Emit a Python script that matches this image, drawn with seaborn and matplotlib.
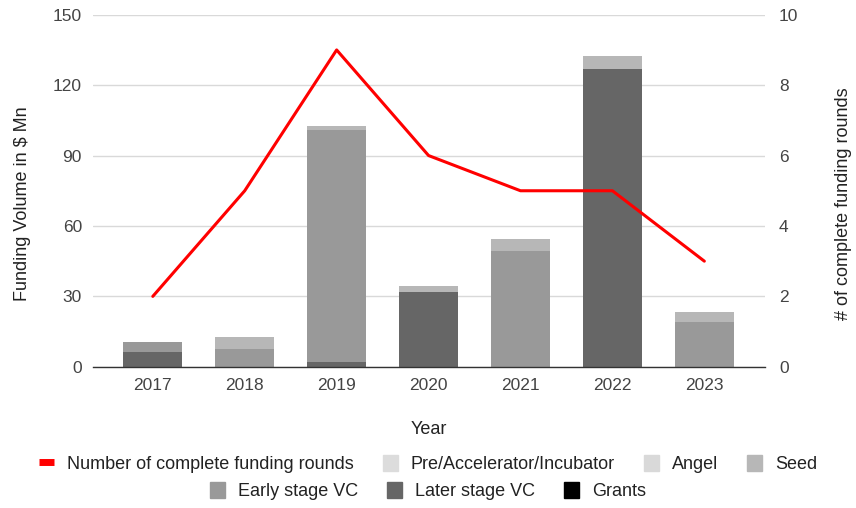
import numpy as np
import pandas as pd
import matplotlib
matplotlib.use("Agg")
import matplotlib.pyplot as plt
from matplotlib.patches import Patch
from matplotlib.lines import Line2D
import seaborn as sns

# Funding volume by stage ($ Mn) and number of complete rounds per year
years = ["2017", "2018", "2019", "2020", "2021", "2022", "2023"]
grants = [0, 0, 0, 0, 0, 0, 0]
later_vc = [6.5, 0, 2, 32, 0, 127, 0]
early_vc = [4, 7.5, 99, 0, 49.5, 0, 19]
seed = [0, 5, 1.5, 2.5, 5, 5.5, 4.5]
angel = [0, 0, 0, 0, 0, 0, 0]
pre_acc = [0, 0, 0, 0, 0, 0, 0]
rounds = [2, 5, 9, 6, 5, 5, 3]

left_ticks = [0, 30, 60, 90, 120, 150]
right_ticks = [0, 2, 4, 6, 8, 10]

sns.set_theme(style="white")
plt.rcParams["font.family"] = ["Liberation Sans", "DejaVu Sans"]

TICK_FS = 12.5
LABEL_FS = 13

# stack order from the bottom up
layers = [
    ("Grants", grants, "#000000"),
    ("Later stage VC", later_vc, "#666666"),
    ("Early stage VC", early_vc, "#999999"),
    ("Seed", seed, "#b7b7b7"),
    ("Angel", angel, "#d9d9d9"),
    ("Pre/Accelerator/Incubator", pre_acc, "#dcdcdc"),
]

fig = plt.figure(figsize=(8.56, 5.08), dpi=100)
ax = fig.add_axes([0.1087, 0.278, 0.785, 0.693])

cum = np.cumsum([np.array(v, dtype=float) for _, v, _ in layers], axis=0)
# draw cumulative totals from the tallest down so each layer shows its own slice
for i in range(len(layers) - 1, -1, -1):
    name, _, color = layers[i]
    d = pd.DataFrame({"Year": years, "value": cum[i]})
    sns.barplot(data=d, x="Year", y="value", color=color, width=0.64,
                saturation=1, ax=ax, zorder=2, edgecolor="none", linewidth=0)

ax.set_ylim(0, 150)
ax.set_yticks(left_ticks)
ax.set_xlim(-0.65, 6.66)
ax.grid(axis="y", color="#d9d9d9", linewidth=1.0, zorder=0)
ax.set_axisbelow(True)
for s in ["top", "right", "left"]:
    ax.spines[s].set_visible(False)
ax.spines["bottom"].set_color("#333333")
ax.spines["bottom"].set_linewidth(1.0)
ax.tick_params(axis="both", length=0, labelsize=TICK_FS, colors="#444444", pad=8)
ax.set_xlabel("Year", fontsize=LABEL_FS, color="#222222", labelpad=20)
ax.set_ylabel("Funding Volume in $ Mn", fontsize=LABEL_FS, color="#222222")
ax.yaxis.set_label_coords(-0.092, 0.462)

ax2 = ax.twinx()
ld = pd.DataFrame({"pos": np.arange(len(years)), "rounds": rounds})
sns.lineplot(data=ld, x="pos", y="rounds", color="#ff0000", linewidth=2.2, ax=ax2)
ax2.set_ylim(0, 10)
ax2.set_yticks(right_ticks)
for s in ["top", "right", "left", "bottom"]:
    ax2.spines[s].set_visible(False)
ax2.tick_params(axis="y", length=0, labelsize=TICK_FS, colors="#444444", pad=10)
ax2.set_ylabel("# of complete funding rounds", fontsize=LABEL_FS, color="#222222")
ax2.yaxis.set_label_coords(1.104, 0.462)
ax2.grid(False)

color_of = {n: c for n, _, c in layers}
row1 = [Line2D([], [], color="#ff0000", linewidth=5, solid_capstyle="butt"),
        Patch(color=color_of["Pre/Accelerator/Incubator"]),
        Patch(color=color_of["Angel"]),
        Patch(color=color_of["Seed"])]
labels1 = ["Number of complete funding rounds", "Pre/Accelerator/Incubator",
           "Angel", "Seed"]
row2 = [Patch(color=color_of["Early stage VC"]),
        Patch(color=color_of["Later stage VC"]),
        Patch(color=color_of["Grants"])]
labels2 = ["Early stage VC", "Later stage VC", "Grants"]

common = dict(loc="center", frameon=False, fontsize=LABEL_FS, handlelength=0.85,
              handleheight=1.0, handletextpad=0.7, columnspacing=1.6,
              labelcolor="#222222")
leg1 = fig.legend(row1, labels1, ncol=4, bbox_to_anchor=(0.5, 1 - 464 / 508),
                  **common)
leg2 = fig.legend(row2, labels2, ncol=3, bbox_to_anchor=(0.5, 1 - 491 / 508),
                  **common)

fig.savefig("out.png", dpi=100)
